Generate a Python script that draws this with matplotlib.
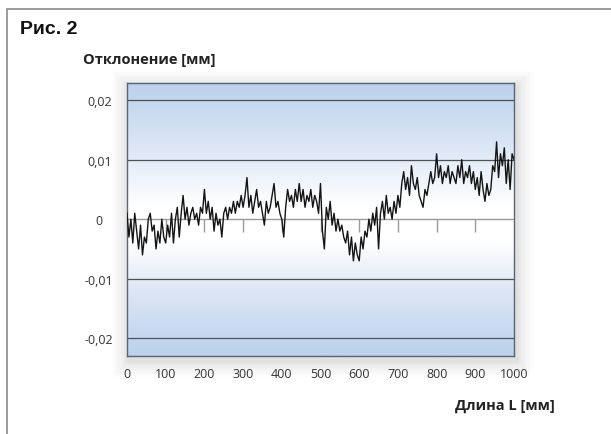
import numpy as np
import matplotlib
matplotlib.use("Agg")
import matplotlib.pyplot as plt
from matplotlib.colors import LinearSegmentedColormap
from matplotlib.patches import Rectangle

# deviation, every 5 mm, in micrometres
length_mm = np.arange(0, 1001, 5)
deviation_um = [
    1, -3, 0, -4, 1, -2, -5, -1, -6, -3,
    -4, 0, 1, -2, -1, -5, -2, -4, 0, -3,
    -4, -1, -3, 1, -4, 0, 2, -3, 1, 4,
    0, 2, -1, 1, 2, 0, 1, -1, 2, 1,
    5, 1, 3, 0, 2, -2, 1, -1, 0, -3,
    1, 2, 0, 2, 1, 3, 1, 3, 2, 4,
    2, 4, 7, 2, 4, 1, 3, 5, 2, 3,
    1, -1, 3, 1, 2, 4, 6, 2, 3, 1,
    0, -3, 2, 5, 3, 4, 2, 5, 3, 6,
    3, 5, 2, 4, 3, 5, 2, 4, 3, 1,
    6, -2, -5, 2, 0, 3, -1, 1, -2, 0,
    -2, -1, -3, -4, -2, -6, -3, -7, -4, -6,
    -7, -3, -5, -2, -3, 0, -2, 1, -1, 2,
    -5, 1, 3, 0, 4, 1, 2, 0, 3, 1,
    4, 2, 6, 8, 5, 7, 4, 9, 6, 5,
    7, 4, 3, 2, 5, 4, 6, 8, 6, 7,
    11, 7, 9, 6, 8, 7, 9, 6, 8, 7,
    6, 9, 7, 10, 6, 8, 7, 9, 6, 8,
    5, 7, 4, 8, 5, 3, 6, 4, 5, 9,
    8, 13, 7, 11, 9, 12, 6, 10, 5, 11,
    10,
]
deviation = np.array(deviation_um) / 1000.0

x_ticks = [0, 100, 200, 300, 400, 500, 600, 700, 800, 900, 1000]
y_ticks = [-0.02, -0.01, 0, 0.01, 0.02]
y_labels = ["-0,02", "-0,01", "0", "0,01", "0,02"]

plt.rcParams["font.family"] = ["Open Sans", "DejaVu Sans"]

W, H = 611, 435
fig = plt.figure(figsize=(W / 100, H / 100), dpi=100)

# outer frame of the picture
fig.add_artist(Rectangle((7 / W, -0.05), 1.2, 1 - 10 / H + 0.05,
                         transform=fig.transFigure, fill=False,
                         edgecolor="#8a8a8a", lw=1.2))

ax_l, ax_b, ax_w, ax_h = 127 / W, (H - 357) / H, 387 / W, 273 / H

# soft shadow around the plot box
for i, a in enumerate([0.04, 0.035, 0.03, 0.025, 0.02, 0.015, 0.01]):
    d = (i + 1) * 2.5
    fig.add_artist(Rectangle(((127 - d + 2) / W, (H - 357 - d - 4) / H),
                             (387 + 2 * d) / W, (273 + 2 * d) / H,
                             transform=fig.transFigure, facecolor="#606060",
                             edgecolor="none", alpha=a, zorder=0))

ax = fig.add_axes([ax_l, ax_b, ax_w, ax_h], zorder=2)
ymin, ymax = -0.023, 0.0229
ax.set_xlim(0, 1000)
ax.set_ylim(ymin, ymax)

# vertical background gradient: blue at the edges, white near zero
cmap = LinearSegmentedColormap.from_list(
    "bg", [(0.0, "#bbd1ec"), (0.22, "#d9e5f4"), (0.42, "#ffffff"),
           (0.55, "#ffffff"), (0.78, "#dae6f5"), (1.0, "#bbd1ec")])
grad = np.linspace(0, 1, 256).reshape(-1, 1)
ax.imshow(grad, extent=[0, 1000, ymin, ymax], cmap=cmap, aspect="auto",
          origin="lower", zorder=0)

for yv in [-0.02, -0.01, 0.01, 0.02]:
    ax.axhline(yv, color="#505050", lw=0.9, zorder=1)
ax.axhline(0, color="#9a9a9a", lw=1.0, zorder=1)
ax.vlines(x_ticks[1:-1], -0.0022, 0, color="#9a9a9a", lw=1.0, zorder=1)

ax.plot(length_mm, deviation, color="#141414", lw=1.0, zorder=3)

ax.set_xticks(x_ticks)
ax.set_xticklabels([str(v) for v in x_ticks])
ax.set_yticks(y_ticks)
ax.set_yticklabels(y_labels, ha="center")
ax.tick_params(axis="both", length=0, labelsize=9, colors="#333333")
ax.tick_params(axis="x", pad=8)
ax.tick_params(axis="y", pad=20)
for s in ax.spines.values():
    s.set_color("#5a6470")
    s.set_linewidth(1.0)

fig.text(20 / W, 1 - 29 / H, "Рис. 2", fontsize=14, fontweight="bold",
         va="center", ha="left", color="#111111",
         family=["Liberation Sans", "DejaVu Sans"])
fig.text(83 / W, 1 - 60 / H, "Отклонение [мм]", fontsize=10.5,
         fontweight="bold", va="center", ha="left", color="#222222")
fig.text(555 / W, 1 - 406 / H, "Длина L [мм]", fontsize=10.5,
         fontweight="bold", va="center", ha="right", color="#222222")

fig.savefig("out.png", dpi=100)
